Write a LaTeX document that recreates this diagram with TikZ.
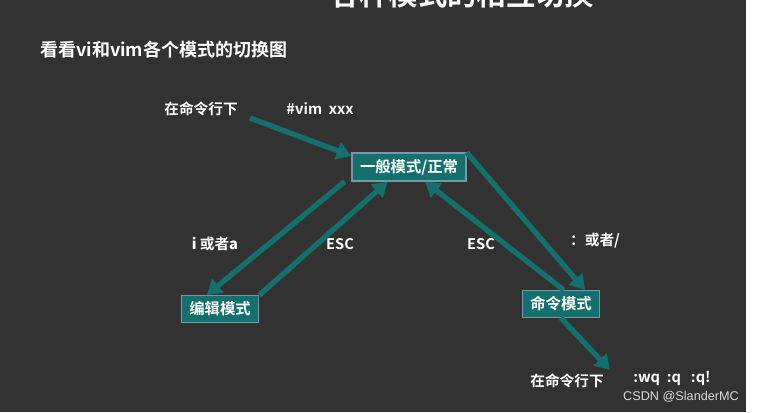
\documentclass[tikz,border=0pt]{standalone}
\usepackage{fontspec}
\setmainfont{Liberation Sans}
\newfontfamily\cjk{Noto Sans CJK SC}[BoldFont={Noto Sans CJK SC Bold}]
\usetikzlibrary{arrows.meta}
\definecolor{board}{RGB}{50,50,50}
\definecolor{vimteal}{RGB}{20,112,108}
\definecolor{boxedge}{RGB}{120,150,170}
\tikzset{
  modebox/.style={draw=boxedge,line width=1pt,fill=vimteal,text=white,font=\cjk\bfseries\fontsize{11.5}{13}\selectfont,inner xsep=6pt,inner ysep=4.5pt},
  lbl/.style={text=white,font=\cjk\bfseries\fontsize{11}{13}\selectfont,inner sep=0.75pt},
  flow/.style={draw=vimteal,line width=4pt,-{Triangle[length=11pt,width=13pt]}}
}
\begin{document}
\begin{tikzpicture}[x=0.75pt,y=0.75pt,yscale=-1,xscale=1]
\useasboundingbox (0,0) rectangle (762,412);
\clip (0,0) rectangle (762,412);
\fill [white] (0,0) rectangle (762,412);
\fill [board] (0,0) rectangle (746,412);
% title, cut at the top
\node [text=white,font=\cjk\bfseries\fontsize{22}{24}\selectfont] (title) at (462,-6) {各种模式的相互切换};
\node [lbl,anchor=west,font=\cjk\bfseries\fontsize{13.5}{15}\selectfont] (sub) at (39,50) {看看vi和vim各个模式的切换图};
% modes
\node [modebox] (normal) at (409,167) {一般模式/正常};
\node [modebox] (edit) at (220,309) {编辑模式};
\node [modebox] (cmd) at (561,304) {命令模式};
% texts
\node [lbl] (shell) at (201,109) {在命令行下};
\node [lbl] (open) at (320,109) {\#vim\ \ xxx};
\node [lbl] (ia) at (215,244) {\textit{i} 或者\textit{a}};
\node [lbl] (esca) at (340,244) {ESC};
\node [lbl] (escb) at (481,244) {ESC};
\node [lbl] (colon) at (595,241) {：或者/};
\node [lbl] (shellb) at (567,381) {在命令行下};
\node [lbl] (quit) at (672,378) {:wq\ \ :q\ \ \ :q!};
\node [text=white!85!black,font=\fontsize{9.5}{11}\selectfont,inner sep=0.75pt] (mark) at (681,397) {CSDN @SlanderMC};
% connectors
\coordinate (start) at (250,118);
\coordinate (stop) at (610,370);
\draw [flow] (start) -- (normal.west |- 0,156);
\draw [flow] ([xshift=-5pt]normal.south west) -- ([xshift=-10pt]edit.north);
\draw [flow] (edit.north east) -- ([xshift=-16pt]normal.south);
\draw [flow] (normal.north east) -- ([xshift=18pt]cmd.north);
\draw [flow] ([xshift=2pt]cmd.north) -- ([xshift=12pt]normal.south);
\draw [flow] (cmd.south) -- (stop);
\end{tikzpicture}
\end{document}
